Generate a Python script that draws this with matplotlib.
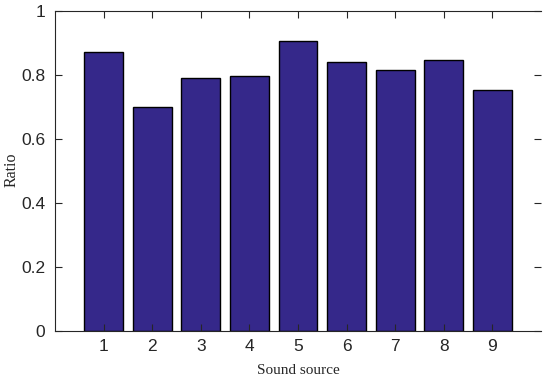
import matplotlib
matplotlib.use("Agg")
import matplotlib.pyplot as plt

sources = [1, 2, 3, 4, 5, 6, 7, 8, 9]
ratios = [0.871, 0.701, 0.790, 0.796, 0.906, 0.840, 0.815, 0.846, 0.753]
yticks = [0, 0.2, 0.4, 0.6, 0.8, 1]
ytick_labels = ["0", "0.2", "0.4", "0.6", "0.8", "1"]

fig = plt.figure(figsize=(5.5, 3.81), dpi=100)
ax = fig.add_axes([55/550, 1 - 331/381, (541-55)/550, (331-11)/381])

ax.bar(sources, ratios, width=0.8, color="#35288a", edgecolor="black", linewidth=1.0)

ax.set_xlim(0, 10)
ax.set_ylim(0, 1)
ax.set_xticks(sources)
ax.set_yticks(yticks)
ax.set_yticklabels(ytick_labels)

gray = "#262626"
for s in ["left", "bottom", "top"]:
    ax.spines[s].set_color(gray)
    ax.spines[s].set_linewidth(0.8)
ax.spines["right"].set_visible(False)

ax.tick_params(axis="both", direction="in", length=5, width=0.8, color=gray,
               labelcolor=gray, labelsize=12.5, top=True, right=True)
for lab in ax.get_xticklabels() + ax.get_yticklabels():
    lab.set_family("Liberation Sans")
ax.tick_params(axis="x", pad=6)
ax.tick_params(axis="y", pad=7)

ax.set_xlabel("Sound source", family="Liberation Serif", fontsize=11, color=gray)
ax.set_ylabel("Ratio", family="Liberation Serif", fontsize=11.5, color=gray)
ax.xaxis.set_label_coords(0.5, -(364 - 331) / 320)
ax.yaxis.set_label_coords(-(55 - 20) / 486, (331 - 169.5) / 320)
ax.xaxis.label.set_va("top")

fig.savefig("out.png", dpi=100)
